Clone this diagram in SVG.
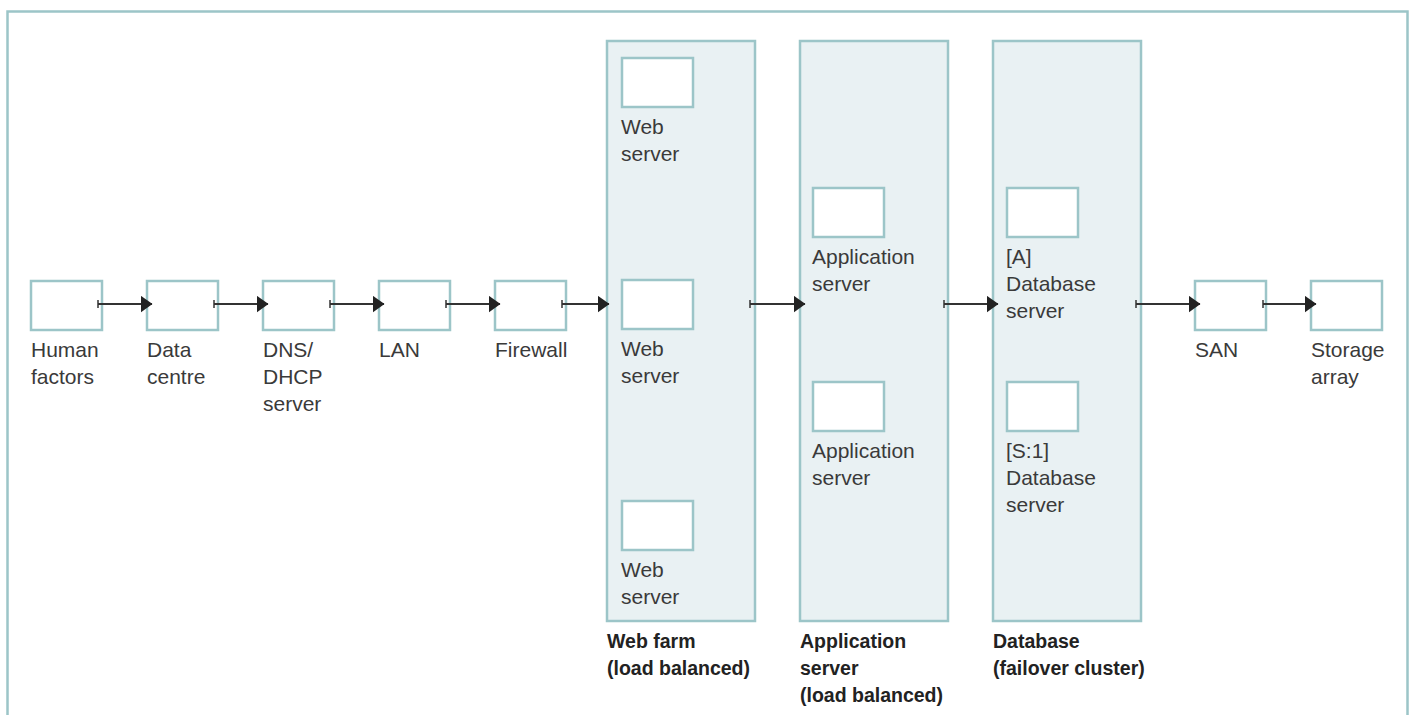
<svg xmlns="http://www.w3.org/2000/svg" width="1413" height="715" viewBox="0 0 1413 715">
  <defs>
    <style>
      .frame { fill: none; stroke: #9cc5c8; stroke-width: 2.5; }
      .panel { fill: #e9f1f3; stroke: #9cc5c8; stroke-width: 2.5; }
      .box { fill: #ffffff; stroke: #9cc5c8; stroke-width: 2.5; }
      .lbl { font-family: "Liberation Sans", Arial, sans-serif; font-size: 21px; fill: #3a3a3a; }
      .title { font-family: "Liberation Sans", Arial, sans-serif; font-size: 19.5px; font-weight: bold; fill: #222222; }
      .link { stroke: #333333; stroke-width: 1.8; fill: none; marker-start: url(#tick); marker-end: url(#head); }
    </style>
    <marker id="head" viewBox="0 0 12 17" refX="11.5" refY="8.5" markerWidth="12" markerHeight="17" markerUnits="userSpaceOnUse" orient="auto">
      <path d="M0,0 L12,8.5 L0,17 Z" fill="#222222"/>
    </marker>
    <marker id="tick" viewBox="0 0 2 8" refX="1" refY="4" markerWidth="2" markerHeight="8" markerUnits="userSpaceOnUse" orient="auto">
      <path d="M1,0 L1,8" stroke="#333333" stroke-width="1.5"/>
    </marker>
  </defs>

  <rect width="1413" height="715" fill="#ffffff"/>

  <!-- outer frame, open at the bottom -->
  <path class="frame" d="M7.5,720 L7.5,11.5 L1407.5,11.5 L1407.5,720"/>

  <!-- cluster panels -->
  <g id="webfarm">
    <rect class="panel" x="607" y="41" width="148" height="580"/>
    <text class="title" x="607" y="648">Web farm</text>
    <text class="title" x="607" y="675">(load balanced)</text>
  </g>
  <g id="appcluster">
    <rect class="panel" x="800" y="41" width="148" height="580"/>
    <text class="title" x="800" y="648">Application</text>
    <text class="title" x="800" y="675">server</text>
    <text class="title" x="800" y="702">(load balanced)</text>
  </g>
  <g id="dbcluster">
    <rect class="panel" x="993" y="41" width="148" height="580"/>
    <text class="title" x="993" y="648">Database</text>
    <text class="title" x="993" y="675">(failover cluster)</text>
  </g>

  <!-- chain nodes -->
  <g id="human">
    <rect class="box" x="31" y="281" width="71" height="49"/>
    <text class="lbl" x="31" y="357">Human</text>
    <text class="lbl" x="31" y="384">factors</text>
  </g>
  <g id="datacentre">
    <rect class="box" x="147" y="281" width="71" height="49"/>
    <text class="lbl" x="147" y="357">Data</text>
    <text class="lbl" x="147" y="384">centre</text>
  </g>
  <g id="dns">
    <rect class="box" x="263" y="281" width="71" height="49"/>
    <text class="lbl" x="263" y="357">DNS/</text>
    <text class="lbl" x="263" y="384">DHCP</text>
    <text class="lbl" x="263" y="411">server</text>
  </g>
  <g id="lan">
    <rect class="box" x="379" y="281" width="71" height="49"/>
    <text class="lbl" x="379" y="357">LAN</text>
  </g>
  <g id="firewall">
    <rect class="box" x="495" y="281" width="71" height="49"/>
    <text class="lbl" x="495" y="357">Firewall</text>
  </g>

  <g id="web1">
    <rect class="box" x="622" y="58" width="71" height="49"/>
    <text class="lbl" x="621" y="134">Web</text>
    <text class="lbl" x="621" y="161">server</text>
  </g>
  <g id="web2">
    <rect class="box" x="622" y="280" width="71" height="49"/>
    <text class="lbl" x="621" y="356">Web</text>
    <text class="lbl" x="621" y="383">server</text>
  </g>
  <g id="web3">
    <rect class="box" x="622" y="501" width="71" height="49"/>
    <text class="lbl" x="621" y="577">Web</text>
    <text class="lbl" x="621" y="604">server</text>
  </g>

  <g id="app1">
    <rect class="box" x="813" y="188" width="71" height="49"/>
    <text class="lbl" x="812" y="264">Application</text>
    <text class="lbl" x="812" y="291">server</text>
  </g>
  <g id="app2">
    <rect class="box" x="813" y="382" width="71" height="49"/>
    <text class="lbl" x="812" y="458">Application</text>
    <text class="lbl" x="812" y="485">server</text>
  </g>

  <g id="db1">
    <rect class="box" x="1007" y="188" width="71" height="49"/>
    <text class="lbl" x="1006" y="264">[A]</text>
    <text class="lbl" x="1006" y="291">Database</text>
    <text class="lbl" x="1006" y="318">server</text>
  </g>
  <g id="db2">
    <rect class="box" x="1007" y="382" width="71" height="49"/>
    <text class="lbl" x="1006" y="458">[S:1]</text>
    <text class="lbl" x="1006" y="485">Database</text>
    <text class="lbl" x="1006" y="512">server</text>
  </g>

  <g id="san">
    <rect class="box" x="1195" y="281" width="71" height="49"/>
    <text class="lbl" x="1195" y="357">SAN</text>
  </g>
  <g id="storage">
    <rect class="box" x="1311" y="281" width="71" height="49"/>
    <text class="lbl" x="1311" y="357">Storage</text>
    <text class="lbl" x="1311" y="384">array</text>
  </g>

  <!-- connectors -->
  <g id="connectors">
    <line class="link" x1="98" y1="304" x2="152" y2="304"/>
    <line class="link" x1="214" y1="304" x2="268" y2="304"/>
    <line class="link" x1="330" y1="304" x2="384" y2="304"/>
    <line class="link" x1="446" y1="304" x2="500" y2="304"/>
    <line class="link" x1="562" y1="304" x2="609" y2="304"/>
    <line class="link" x1="750" y1="304" x2="805" y2="304"/>
    <line class="link" x1="944" y1="304" x2="998" y2="304"/>
    <line class="link" x1="1136" y1="304" x2="1200" y2="304"/>
    <line class="link" x1="1263" y1="304" x2="1316" y2="304"/>
  </g>
</svg>
